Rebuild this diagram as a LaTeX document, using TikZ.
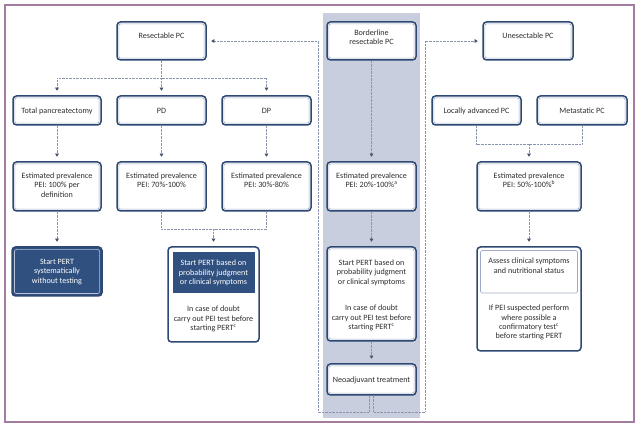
\documentclass[tikz,border=0pt]{standalone}
\usepackage{fontspec}
\setmainfont{Carlito}
\usetikzlibrary{arrows.meta,calc}
\definecolor{framec}{HTML}{A47C9F}
\definecolor{shadec}{HTML}{C9CEDE}
\definecolor{navy}{HTML}{2E4874}
\definecolor{navyfill}{HTML}{30507F}
\definecolor{innerl}{HTML}{9FAAC4}
\definecolor{innerd}{HTML}{B8C2D8}
\definecolor{connc}{HTML}{8A94AE}
\definecolor{arrowc}{HTML}{44546F}
\definecolor{textc}{HTML}{2E2E2E}
\newcommand\innerfr[2][2.6pt]{\draw[innerl, line width=0.6pt, rounded corners=2pt] ([shift={(#1,-#1)}]#2.north west) rectangle ([shift={(-#1,#1)}]#2.south east);}
\begin{document}
\begin{tikzpicture}[x=1pt,y=-1pt,
  box/.style={draw=navy, line width=1.5pt, rounded corners=3.5pt, fill=white, inner sep=0pt},
  darkbox/.style={draw=navy, line width=1.5pt, rounded corners=3.5pt, fill=navyfill, inner sep=0pt},
  txt/.style={align=center, inner sep=0pt, font=\fontsize{8.1}{9.4}\selectfont, text=textc},
  wtxt/.style={txt, text=white},
  conn/.style={draw=connc, line width=0.65pt, dash pattern=on 0.55pt off 0.85pt},
  arr/.style={-{Triangle[length=3.2pt,width=3.8pt,color=arrowc]}, shorten >=4.5pt}]
\useasboundingbox (0,0) rectangle (640,427);
\fill[white] (0,0) rectangle (640,427);
% shaded column
\fill[shadec] (323,13) rectangle (420,418);
% frame
\draw[framec, line width=1.4pt] (5,5) rectangle (634,422);

% row 1
\node[box, minimum width=89, minimum height=38] (rpc) at (161.5,41) {};
\node[box, minimum width=89, minimum height=38] (bpc) at (371.5,41) {};
\node[box, minimum width=90, minimum height=38] (upc) at (528,41) {};
\node[txt, anchor=base] (rpct) at (161.5,38.8) {Resectable PC};
\node[txt, anchor=north] (bpct) at (371.5,29.5) {Borderline\\resectable PC};
\node[txt, anchor=base] (upct) at (528,38.8) {Unesectable PC};

% row 2
\node[box, minimum width=88, minimum height=29] (tp) at (57,110.5) {};
\node[box, minimum width=89, minimum height=29] (pd) at (161.5,110.5) {};
\node[box, minimum width=89, minimum height=29] (dp) at (266.5,110.5) {};
\node[box, minimum width=89, minimum height=29] (la) at (476.5,110.5) {};
\node[box, minimum width=90, minimum height=29] (mp) at (582,110.5) {};
\node[txt, anchor=base] (tpt) at (57,113.3) {Total pancreatectomy};
\node[txt, anchor=base] (pdt) at (161.5,113.3) {PD};
\node[txt, anchor=base] (dpt) at (266.5,113.3) {DP};
\node[txt, anchor=base] (lat) at (476.5,113.3) {Locally advanced PC};
\node[txt, anchor=base] (mpt) at (582,113.3) {Metastatic PC};

% row 3
\node[box, minimum width=88, minimum height=49] (e1) at (57,186.5) {};
\node[box, minimum width=89, minimum height=49] (e2) at (161.5,186.5) {};
\node[box, minimum width=89, minimum height=49] (e3) at (266.5,186.5) {};
\node[box, minimum width=89, minimum height=49] (eb) at (371.5,186.5) {};
\node[box, minimum width=104, minimum height=49] (eu) at (529,186.5) {};
\node[txt, anchor=north] (e1t) at (57,172.5) {Estimated prevalence\\PEI: 100\% per\\definition};
\node[txt, anchor=north] (e2t) at (161.5,172.5) {Estimated prevalence\\PEI: 70\%-100\%};
\node[txt, anchor=north] (e3t) at (266.5,172.5) {Estimated prevalence\\PEI: 30\%-80\%};
\node[txt, anchor=north] (ebt) at (371.5,172.5) {Estimated prevalence\\PEI: 20\%-100\%\textsuperscript{a}};
\node[txt, anchor=north] (eut) at (529,172.5) {Estimated prevalence\\PEI: 50\%-100\%\textsuperscript{b}};

% row 4
\node[darkbox, minimum width=90, minimum height=49] (dk) at (57,271.5) {};
\draw[innerd, line width=0.6pt, rounded corners=2pt] ([shift={(3.2pt,-3.2pt)}]dk.north west) rectangle ([shift={(-3.2pt,3.2pt)}]dk.south east);
\node[wtxt, anchor=north] (dkt) at (57,259) {Start PERT\\systematically\\without testing};

\node[box, minimum width=91, minimum height=95] (sp) at (213.5,294.5) {};
\fill[navyfill] (173,252) rectangle (255,293);
\node[wtxt, anchor=north] (spt1) at (213.5,259.8) {Start PERT based on\\probability judgment\\or clinical symptoms};
\node[txt, anchor=north] (spt2) at (213.5,305.8) {In case of doubt\\carry out PEI test before\\starting PERT\textsuperscript{c}};

\node[box, minimum width=89, minimum height=94] (bsp) at (371.5,294) {};
\node[txt, anchor=north] (bspt1) at (371.5,259.5) {Start PERT based on\\probability judgment\\or clinical symptoms};
\node[txt, anchor=north] (bspt2) at (371.5,305) {In case of doubt\\carry out PEI test before\\starting PERT\textsuperscript{c}};

\node[box, minimum width=104, minimum height=104] (as) at (529,299) {};
\draw[innerl, line width=0.6pt, rounded corners=1.5pt] (480.5,250.5) rectangle (577.5,293);
\node[txt, anchor=north] (ast1) at (529,257.8) {Assess clinical symptoms\\and nutritional status};
\node[txt, anchor=north] (ast2) at (529,304.8) {If PEI suspected perform\\where possible a\\confirmatory test\textsuperscript{c}\\before starting PERT};

% row 5
\node[box, minimum width=89, minimum height=31] (neo) at (371.5,379.5) {};
\node[txt, anchor=base] (neot) at (371.5,382.3) {Neoadjuvant treatment};

% inner frames
\foreach \n in {rpc,bpc,upc,tp,pd,dp,la,mp,e1,e2,e3,eb,eu,bsp,neo} {\innerfr{\n}}

% connectors
\coordinate (j1) at (161.5,78);
\draw[conn] (rpc.south) -- (j1);
\draw[conn,arr] (j1) -| (tp.north);
\draw[conn,arr] (j1) -- (pd.north);
\draw[conn,arr] (j1) -| (dp.north);

\draw[conn,arr] (tp.south) -- (e1.north);
\draw[conn,arr] (pd.south) -- (e2.north);
\draw[conn,arr] (dp.south) -- (e3.north);

\coordinate (j2) at (529,144);
\draw[conn] (la.south) |- (j2);
\draw[conn] (mp.south) |- (j2);
\draw[conn,arr] (j2) -- (eu.north);

\coordinate (j3) at (213.5,229);
\draw[conn] (e2.south) |- (j3);
\draw[conn] (e3.south) |- (j3);
\draw[conn,arr] (j3) -- (sp.north);

\draw[conn,arr] (e1.south) -- (dk.north);
\draw[conn,arr] (bpc.south) -- (eb.north);
\draw[conn,arr] (eb.south) -- (bsp.north);
\draw[conn,arr] (bsp.south) -- (neo.north);
\draw[conn,arr] (eu.south) -- (as.north);

\coordinate (lb) at (318,412);
\coordinate (rb) at (425,412);
\draw[conn,arr] ([xshift=-2.5pt]neo.south) |- (lb) |- (rpc.east);
\draw[conn,arr] ([xshift=2pt]neo.south) |- (rb) |- (upc.west);
\end{tikzpicture}
\end{document}
